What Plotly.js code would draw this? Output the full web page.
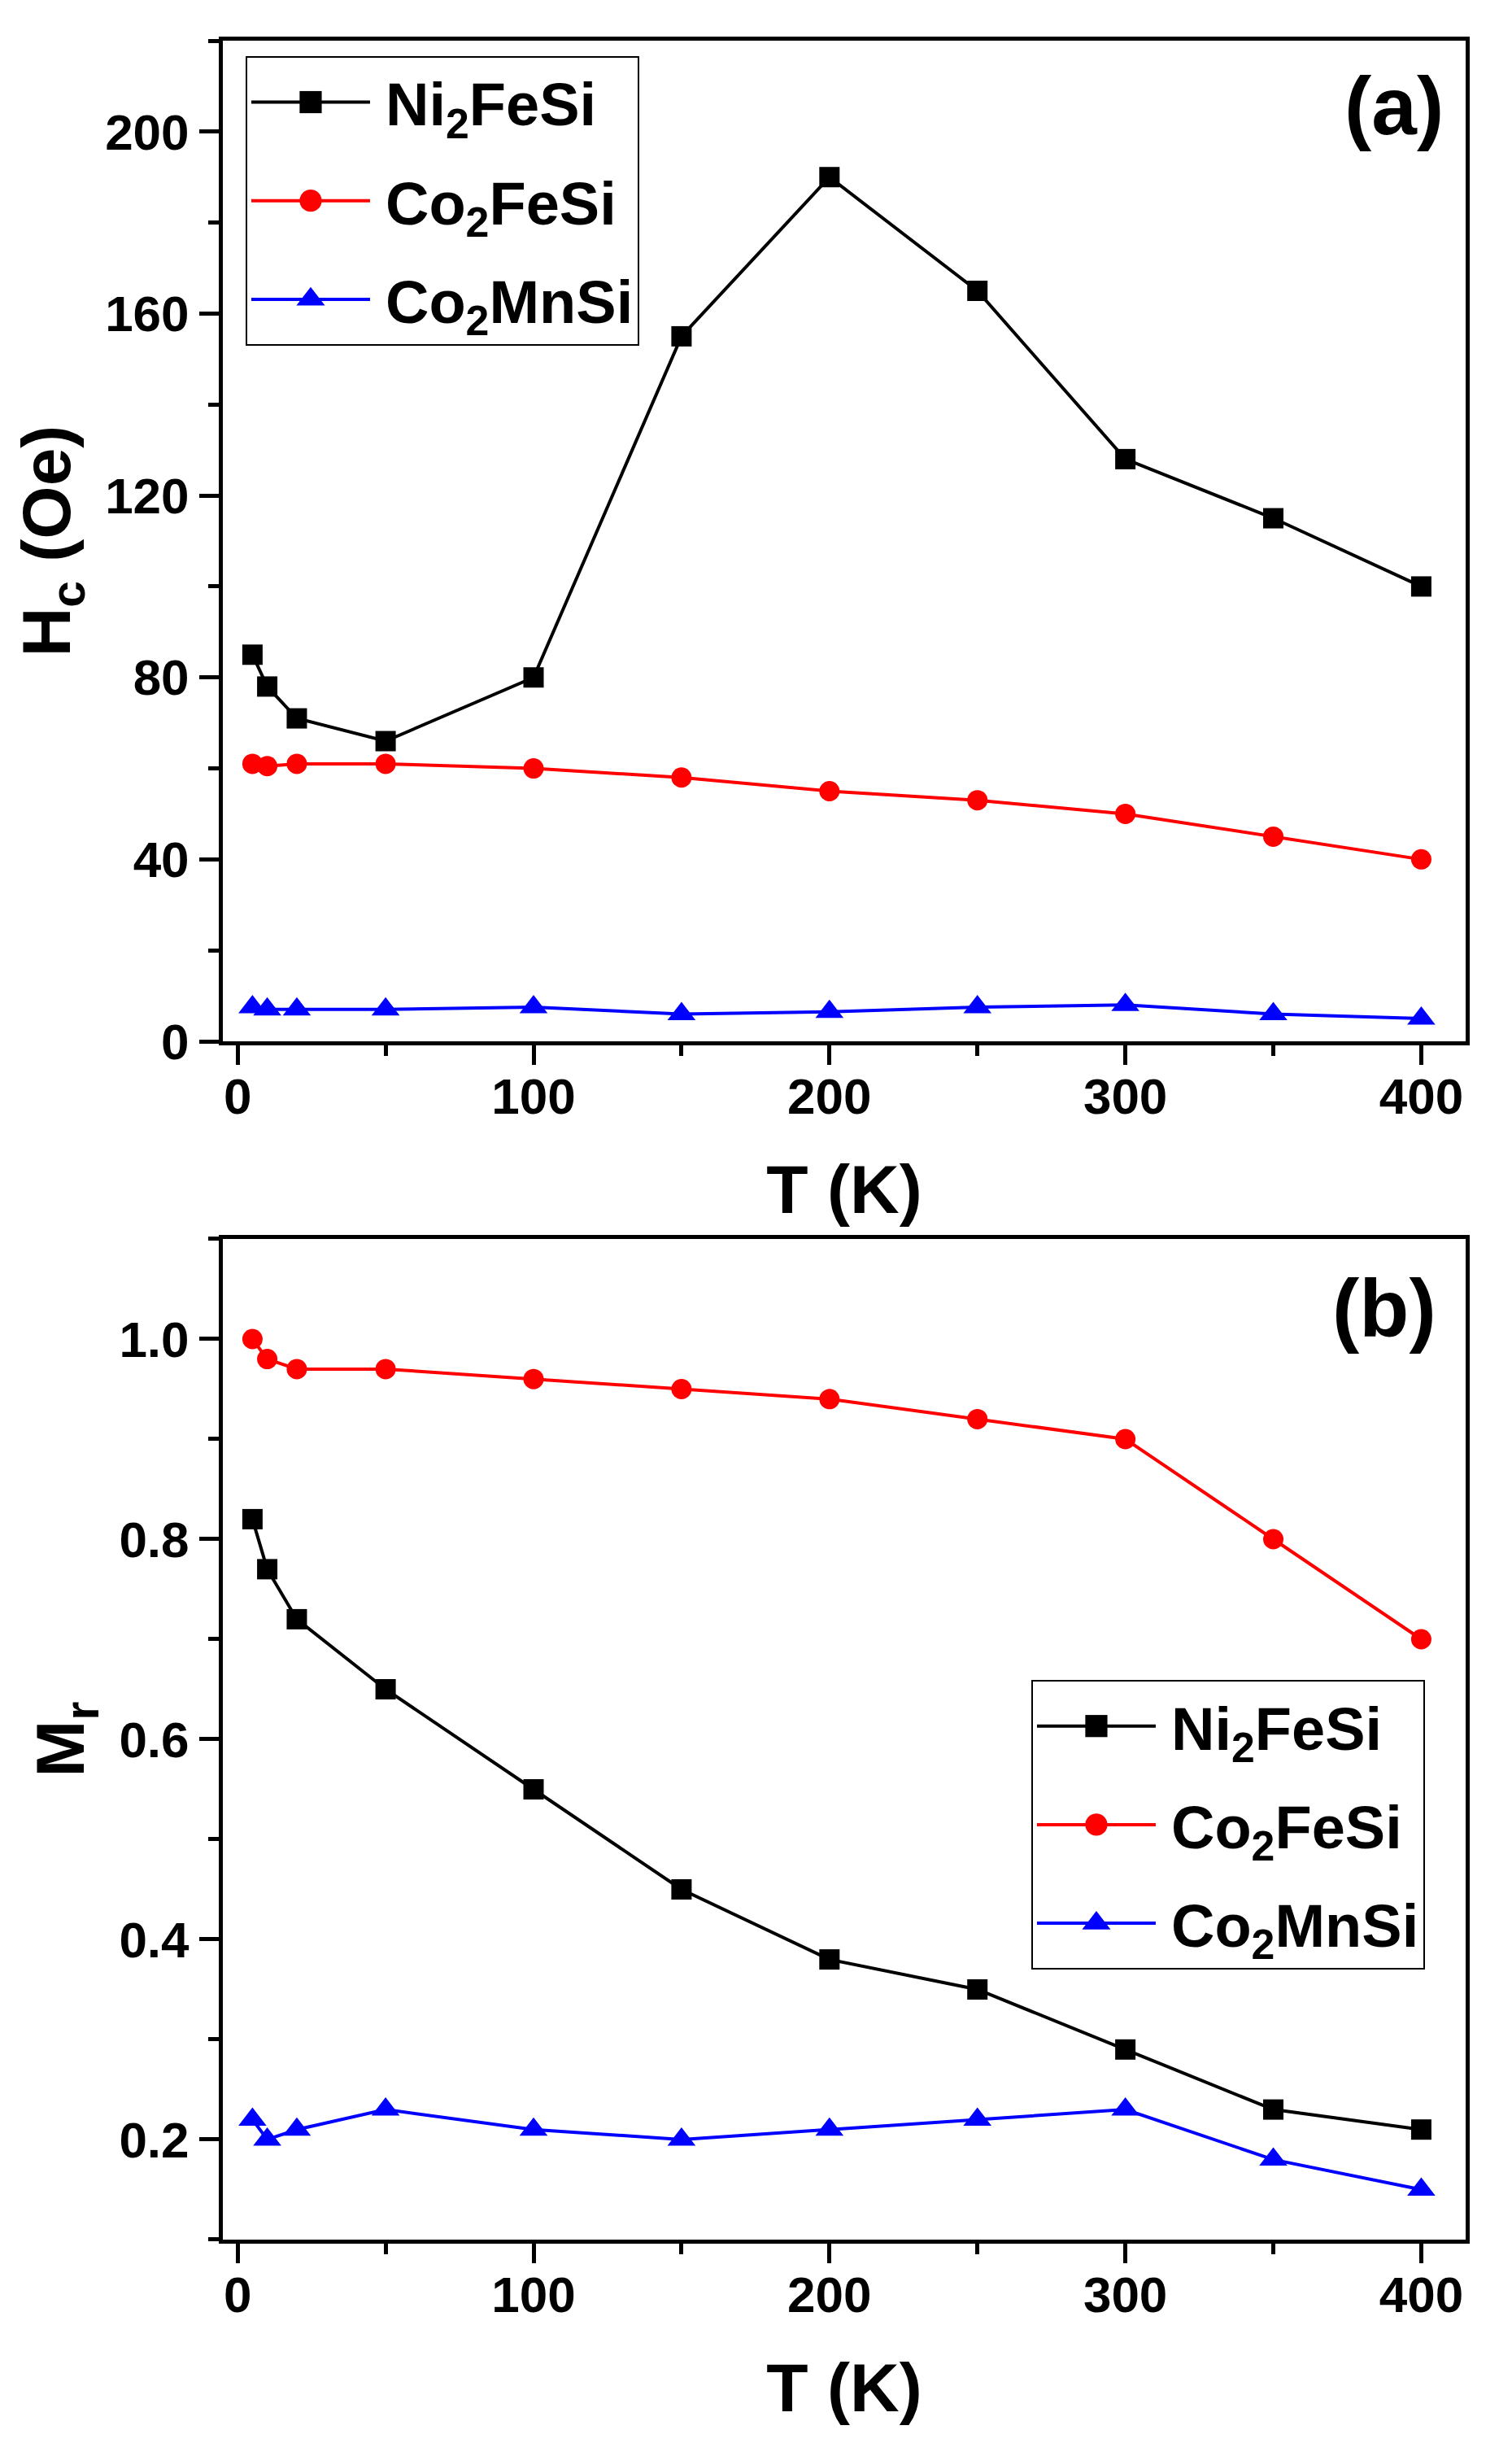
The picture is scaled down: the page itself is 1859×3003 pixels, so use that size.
<!DOCTYPE html>
<html>
<head>
<meta charset="utf-8">
<script src="https://cdn.plot.ly/plotly-3.0.1.min.js"></script>
<style>html,body{margin:0;padding:0;background:#fff;}#chart{width:1859px;height:3003px;}</style>
</head>
<body>
<div id="chart"></div>
<script>
// Temperatures (K)
var temperature = [5, 10, 20, 50, 100, 150, 200, 250, 300, 350, 400];
// Series names
var seriesNames = ['Ni<sub>2</sub>FeSi', 'Co<sub>2</sub>FeSi', 'Co<sub>2</sub>MnSi'];
// Panel (a): coercivity Hc (Oe)
var hcNi2FeSi = [85, 78, 71, 66, 80, 155, 190, 165, 128, 115, 100];
var hcCo2FeSi = [61, 60.5, 61, 61, 60, 58, 55, 53, 50, 45, 40];
var hcCo2MnSi = [7.5, 7, 7, 7, 7.5, 6, 6.5, 7.5, 8, 6, 5];
// Panel (b): remanence Mr
var mrNi2FeSi = [0.82, 0.77, 0.72, 0.65, 0.55, 0.45, 0.38, 0.35, 0.29, 0.23, 0.21];
var mrCo2FeSi = [1.00, 0.98, 0.97, 0.97, 0.96, 0.95, 0.94, 0.92, 0.90, 0.80, 0.70];
var mrCo2MnSi = [0.22, 0.20, 0.21, 0.23, 0.21, 0.20, 0.21, 0.22, 0.23, 0.18, 0.15];
// Tick values
var xTicks = [0, 100, 200, 300, 400];
var hcTicks = [0, 40, 80, 120, 160, 200];
var mrTicks = [0.2, 0.4, 0.6, 0.8, 1.0];
var mrTickText = ['0.2', '0.4', '0.6', '0.8', '1.0'];

var colors = ['#000000', '#ff0000', '#0000ff'];
var symbols = ['square', 'circle', 'triangle-up'];
var sizes = [25, 25, 30];
var FONT = 'Liberation Sans, Arial, sans-serif';

function mk(y, i, xa, ya, leg, grp) {
  return {
    x: temperature, y: y, name: seriesNames[i],
    xaxis: xa, yaxis: ya, legend: leg, legendgroup: grp,
    type: 'scatter', mode: 'lines+markers',
    line: {color: colors[i], width: 4},
    marker: {color: colors[i], symbol: symbols[i], size: sizes[i]}
  };
}

var data = [
  mk(hcNi2FeSi, 0, 'x', 'y', 'legend', 'a0'),
  mk(hcCo2FeSi, 1, 'x', 'y', 'legend', 'a1'),
  mk(hcCo2MnSi, 2, 'x', 'y', 'legend', 'a2'),
  mk(mrNi2FeSi, 0, 'x2', 'y2', 'legend2', 'b0'),
  mk(mrCo2FeSi, 1, 'x2', 'y2', 'legend2', 'b1'),
  mk(mrCo2MnSi, 2, 'x2', 'y2', 'legend2', 'b2')
];

var tickFont = {family: FONT, size: 62, color: '#000', weight: 'bold'};
var titleFont = {family: FONT, size: 84, color: '#000', weight: 'bold'};
var legendFont = {family: FONT, size: 74, color: '#000', weight: 'bold'};

function xAxis(anchor) {
  return {
    anchor: anchor, domain: [0, 1], range: [-5, 415],
    tickmode: 'array', tickvals: xTicks, ticktext: xTicks.map(String),
    ticks: 'outside', ticklen: 24, tickwidth: 5, tickcolor: '#000',
    ticklabelstandoff: -14,
    minor: {dtick: 50, tick0: 0, ticks: 'outside', ticklen: 13, tickwidth: 5, tickcolor: '#000', showgrid: false},
    showline: true, linewidth: 5, linecolor: '#000', mirror: true,
    showgrid: false, zeroline: false, tickfont: tickFont,
    title: {text: 'T (K)', font: titleFont, standoff: 52}
  };
}

function legendBox(x, y) {
  return {
    x: x, y: y, xanchor: 'left', yanchor: 'top',
    bgcolor: '#fff', bordercolor: '#000', borderwidth: 2,
    font: legendFont, itemwidth: 160, tracegroupgap: 22, traceorder: 'grouped'
  };
}

var layout = {
  width: 1859, height: 3003,
  margin: {l: 274, r: 57, t: 50, b: 250},
  paper_bgcolor: '#fff', plot_bgcolor: '#fff',
  showlegend: true,
  xaxis: xAxis('y'),
  xaxis2: xAxis('y2'),
  yaxis: {
    anchor: 'x', domain: [0.54495, 1], range: [0, 220],
    tickmode: 'array', tickvals: hcTicks, ticktext: hcTicks.map(String),
    ticks: 'outside', ticklen: 24, tickwidth: 5, tickcolor: '#000',
    minor: {dtick: 20, tick0: 0, ticks: 'outside', ticklen: 13, tickwidth: 5, tickcolor: '#000', showgrid: false},
    showline: true, linewidth: 5, linecolor: '#000', mirror: true,
    showgrid: false, zeroline: false, tickfont: tickFont,
    title: {text: 'H<sub>c</sub> (Oe)', font: titleFont, standoff: 16}
  },
  yaxis2: {
    anchor: 'x2', domain: [0, 0.45505], range: [0.1, 1.1],
    tickmode: 'array', tickvals: mrTicks, ticktext: mrTickText,
    ticks: 'outside', ticklen: 24, tickwidth: 5, tickcolor: '#000',
    minor: {dtick: 0.1, tick0: 0, ticks: 'outside', ticklen: 13, tickwidth: 5, tickcolor: '#000', showgrid: false},
    showline: true, linewidth: 5, linecolor: '#000', mirror: true,
    showgrid: false, zeroline: false, tickfont: tickFont,
    title: {text: 'M<sub>r</sub>', font: titleFont, standoff: 16}
  },
  legend: legendBox(0.0183, 0.993),
  legend2: legendBox(0.6505, 0.2545),
  annotations: [
    {text: '(a)', xref: 'paper', yref: 'paper', x: 0.9424, y: 0.9705,
     xanchor: 'center', yanchor: 'middle', showarrow: false,
     font: {family: FONT, size: 100, color: '#000', weight: 'bold'}},
    {text: '(b)', xref: 'paper', yref: 'paper', x: 0.9346, y: 0.4235,
     xanchor: 'center', yanchor: 'middle', showarrow: false,
     font: {family: FONT, size: 100, color: '#000', weight: 'bold'}}
  ]
};

Plotly.newPlot('chart', data, layout, {staticPlot: true, displayModeBar: false}).then(function (gd) {
  // Lengthen the legend line samples and enlarge their symbols, like the reference legend.
  gd.querySelectorAll('g.traces').forEach(function (t) {
    t.querySelectorAll('path.js-line').forEach(function (p) { p.setAttribute('d', 'M5,0h146'); });
    t.querySelectorAll('path.scatterpts').forEach(function (p) {
      var tri = (p.getAttribute('d') || '').indexOf('L0,') >= 0;
      p.setAttribute('transform', 'translate(78,0) scale(' + (tri ? 1.9 : 1.7) + ')');
    });
  });
});
</script>
</body>
</html>
